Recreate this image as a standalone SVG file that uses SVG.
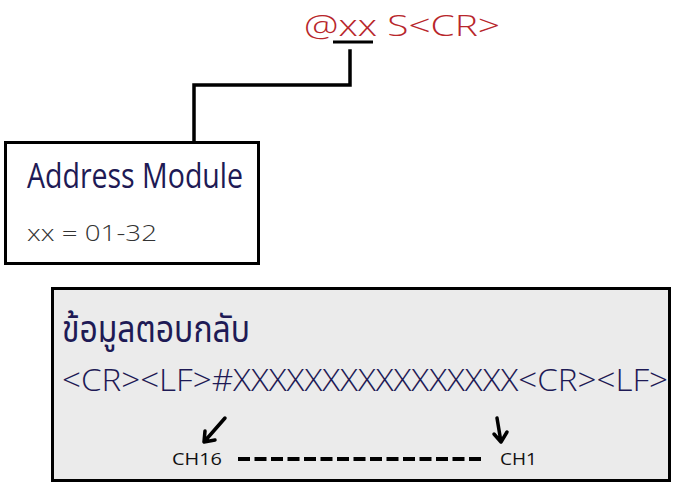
<svg xmlns="http://www.w3.org/2000/svg" width="675" height="486" viewBox="0 0 675 486">
<style>
.box{stroke:#000;stroke-width:3}
.navy{fill:#1e1a55;font-family:"Open Sans","Noto Sans",sans-serif}
.ln{fill:none;stroke:#000;stroke-width:3.5;stroke-linecap:square}
.ar{fill:none;stroke:#000;stroke-width:3.5;stroke-linecap:round;stroke-linejoin:round}
.ch{fill:#111;font-family:"Open Sans","Noto Sans",sans-serif;font-size:17px}
</style>
<rect width="675" height="486" fill="#fff"/>
<g id="command">
<text x="304" y="36" font-family="Open Sans, Noto Sans, sans-serif" font-size="29" font-weight="300" fill="#b8262b" textLength="196" lengthAdjust="spacingAndGlyphs">@xx S&lt;CR&gt;</text>
<line x1="333" y1="42" x2="373" y2="42" stroke="#000" stroke-width="3"/>
</g>
<g id="connectors">
<polyline class="ln" points="350,51 350,85 194,85 194,141"/>
</g>
<g id="address-module">
<rect class="box" x="5.5" y="142.5" width="253" height="121" fill="#fff"/>
<text class="navy" x="27" y="188" font-size="35" textLength="216" lengthAdjust="spacingAndGlyphs">Address Module</text>
<text x="27" y="241" font-family="Open Sans, Noto Sans, sans-serif" font-size="22" font-weight="300" fill="#333" textLength="130" lengthAdjust="spacingAndGlyphs">xx = 01-32</text>
</g>
<g id="response">
<rect class="box" x="52.5" y="288.5" width="617" height="192" fill="#ebebeb"/>
<text x="62" y="342" font-family="Noto Sans Thai, Noto Sans, DejaVu Sans, sans-serif" font-size="37" font-weight="400" fill="#1e1a55" textLength="188" lengthAdjust="spacingAndGlyphs">ข้อมูลตอบกลับ</text>
<text class="navy" x="62" y="391" font-size="32" font-weight="300" textLength="606" lengthAdjust="spacingAndGlyphs">&lt;CR&gt;&lt;LF&gt;#XXXXXXXXXXXXXXXX&lt;CR&gt;&lt;LF&gt;</text>
<path class="ar" d="M225,418 L204,442 M204,442 L205,431 M204,442 L215,440"/>
<path class="ar" d="M497,418 L501,442 M501,442 L494,434 M501,442 L507,432"/>
<text class="ch" x="172" y="465" textLength="50" lengthAdjust="spacingAndGlyphs">CH16</text>
<line x1="238" y1="459" x2="484" y2="459" stroke="#000" stroke-width="4" stroke-dasharray="12,4.5"/>
<text class="ch" x="500" y="465" textLength="37" lengthAdjust="spacingAndGlyphs">CH1</text>
</g>
</svg>
